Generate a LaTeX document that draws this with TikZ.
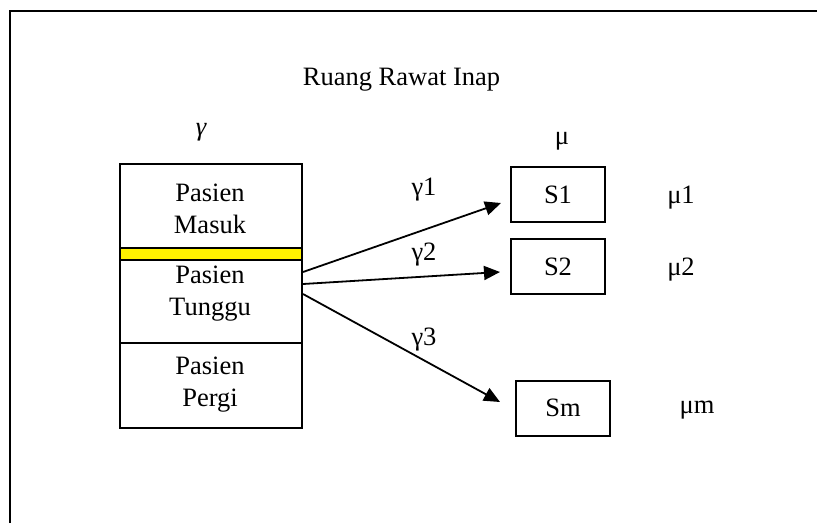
\documentclass[tikz,border=0pt]{standalone}
\usepackage{fontspec}
\setmainfont{Liberation Serif}
\usetikzlibrary{arrows.meta}

\tikzset{
  txt/.style={font=\fontsize{26.5}{32}\selectfont, inner sep=0pt, align=center},
  section/.style={draw, line width=2pt, minimum width=182pt, inner sep=0pt, anchor=north west},
  server/.style={draw, line width=2pt, minimum width=94pt, minimum height=55pt, inner sep=0pt,
                 font=\fontsize{26.5}{32}\selectfont},
  arr/.style={line width=1.8pt, -{Triangle[length=16pt,width=14pt]}},
  frame/.style={line width=2.2pt}
}

\begin{document}
\begin{tikzpicture}[x=1pt,y=-1pt]
  \useasboundingbox (0,0) rectangle (817,523);

  % outer frame (top and left edges)
  \draw[frame] (10,523) -- (10,11) -- (817,11);

  % title and column labels
  \node[txt, anchor=base] (title) at (401.5,85) {Ruang Rawat Inap};
  \node[txt] (lam) at (201,132) {\itshape γ};
  \node[txt] (mu) at (562,141) {μ};

  % queue stack on the left
  \node[section, minimum height=84pt] (masuk) at (119,163) {};
  \node[txt] (masuktxt) at (210,209) {Pasien\\Masuk};
  \node[section, minimum height=12pt, fill=yellow] (band) at (119,247) {};
  \node[section, minimum height=83pt] (tunggu) at (119,259) {};
  \node[txt] (tunggutxt) at (210,294) {Pasien\\Tunggu};
  \node[section, minimum height=85pt] (pergi) at (119,342) {};
  \node[txt] (pergitxt) at (210,385) {Pasien\\Pergi};

  % servers
  \node[server] (s1) at (558,194.5) {S1};
  \node[server] (s2) at (558,266.5) {S2};
  \node[server] (sm) at (563,408) {Sm};

  % service rates
  \node[txt] (mu1) at (681,198) {μ1};
  \node[txt] (mu2) at (681,270) {μ2};
  \node[txt] (mum) at (697,410) {μm};

  % arrival flows from the waiting queue
  \draw[arr] ([yshift=29.5pt]tunggu.east) -- ([xshift=-9pt,yshift=-8.5pt]s1.west);
  \draw[arr] ([yshift=17.5pt]tunggu.east) -- ([xshift=-10pt,yshift=-5.5pt]s2.west);
  \draw[arr] ([yshift=7.5pt]tunggu.east) -- ([xshift=-15pt,yshift=6pt]sm.west);

  \node[txt] (g1) at (424,190) {γ1};
  \node[txt] (g2) at (424,255) {γ2};
  \node[txt] (g3) at (424,340) {γ3};
\end{tikzpicture}
\end{document}
